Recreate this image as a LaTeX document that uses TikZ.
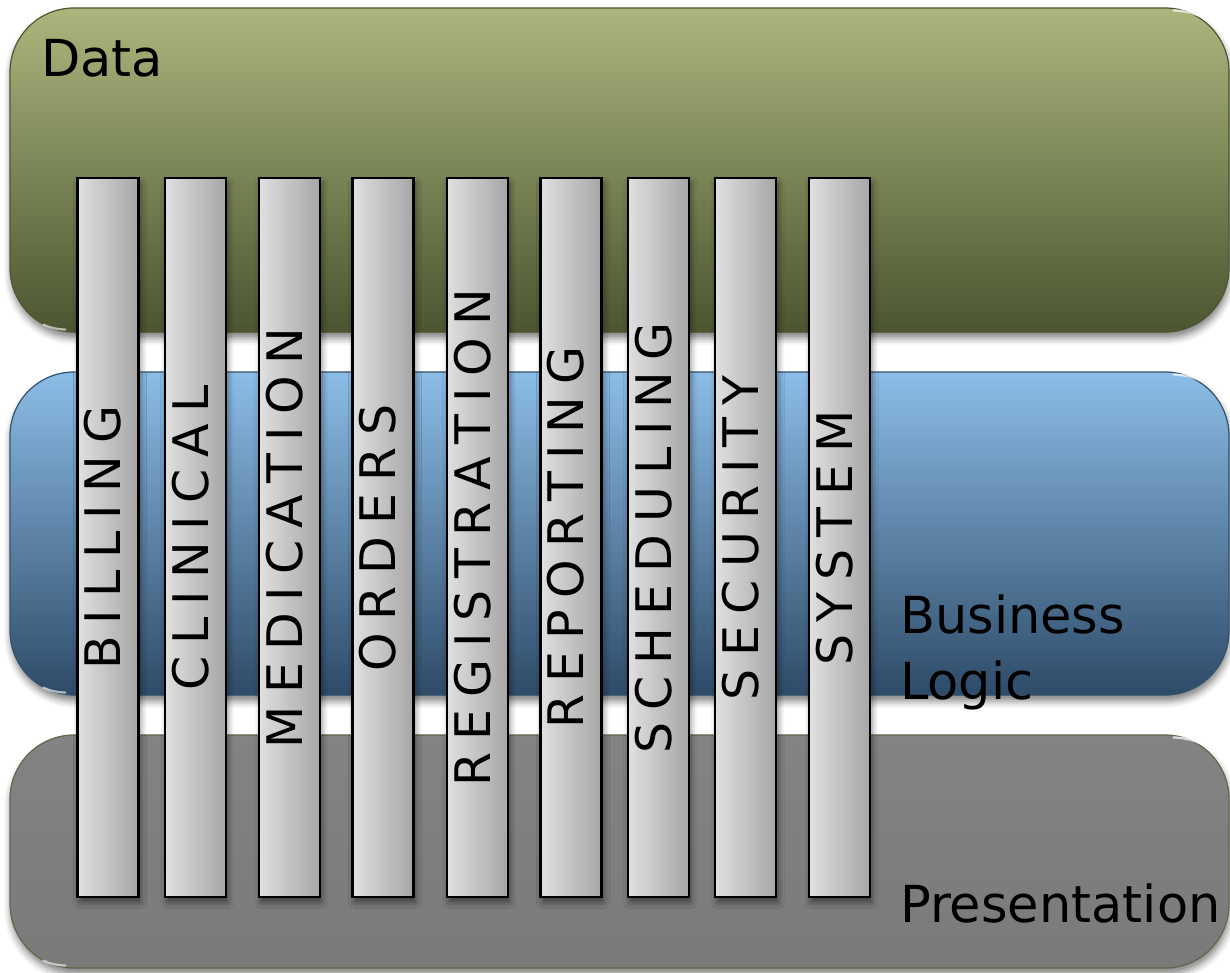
\documentclass[tikz,border=0pt]{standalone}
\usepackage{fontspec}
\setmainfont{DejaVu Sans}
\usetikzlibrary{shadows.blur}
\definecolor{dataTop}{HTML}{ABB67D}
\definecolor{dataBot}{HTML}{4B5530}
\definecolor{dataLine}{HTML}{4E5630}
\definecolor{blueTop}{HTML}{8CBDE7}
\definecolor{blueBot}{HTML}{2E4B68}
\definecolor{blueLine}{HTML}{34526E}
\definecolor{grayTop}{HTML}{838383}
\definecolor{grayBot}{HTML}{7A7A7A}
\definecolor{grayLine}{HTML}{66634A}
\definecolor{colL}{HTML}{E0E0E0}
\definecolor{colM}{HTML}{D3D3D3}
\definecolor{colR}{HTML}{A6A6A6}
\newlength\ltrsp
\setlength\ltrsp{12pt}
\def\spl#1{\splA#1\relax}
\def\splA#1#2{#1\ifx\relax#2\else\hspace{\ltrsp}\expandafter\splA\expandafter#2\fi}
\tikzset{
  layer/.style={rounded corners=64pt, line width=1.2pt, inner sep=0pt,
    minimum width=1219pt,
    blur shadow={shadow xshift=1pt, shadow yshift=-6pt, shadow blur radius=7pt, shadow opacity=50}},
  colbox/.style={draw=black, line width=2.2pt, inner sep=0pt,
    left color=colL, middle color=colM, right color=colR,
    minimum width=61pt, minimum height=719pt,
    blur shadow={shadow xshift=2pt, shadow yshift=-5pt, shadow blur radius=6pt, shadow opacity=50}},
  coltext/.style={rotate=90, inner sep=0pt, font=\fontsize{49}{59}\selectfont},
  lbl/.style={inner sep=0pt, anchor=base west, font=\fontsize{51}{60}\selectfont},
  gloss/.style={white, line width=2.2pt, opacity=.75, line cap=round}
}
\begin{document}
\begin{tikzpicture}[x=1pt,y=-1pt]
\useasboundingbox (0,0) rectangle (1230,973);
% layers
\node[layer, draw=dataLine, top color=dataTop, bottom color=dataBot, minimum height=324pt] (data) at (619.5,170) {};
\node[layer, draw=blueLine, top color=blueTop, bottom color=blueBot, minimum height=323pt] (logic) at (619.5,533.5) {};
\node[layer, draw=grayLine, top color=grayTop, bottom color=grayBot, minimum height=233pt] (pres) at (619.5,851.5) {};
% glossy corner highlights
\foreach \b in {data,logic,pres}{
  \draw[gloss] ([xshift=-56pt,yshift=-3pt]\b.north east) .. controls ([xshift=-44pt,yshift=-3.5pt]\b.north east) and ([xshift=-36pt,yshift=-6pt]\b.north east) .. ([xshift=-29pt,yshift=-9pt]\b.north east);
  \draw[gloss, opacity=.6] ([xshift=34pt,yshift=8pt]\b.south west) .. controls ([xshift=40pt,yshift=5pt]\b.south west) and ([xshift=47pt,yshift=3.5pt]\b.south west) .. ([xshift=56pt,yshift=3pt]\b.south west);
}
% layer labels
\node[lbl] (ldata) at (41,77) {Data};
\node[lbl] (lbus) at (900,633) {Business};
\node[lbl] (llog) at (900,699) {Logic};
\node[lbl] (lpres) at (900,922) {Presentation};
% columns
\foreach \n/\cx/\txt in {1/108/BILLING, 2/195.3/CLINICAL, 3/289.3/MEDICATION, 4/383/ORDERS, 5/477.3/REGISTRATION, 6/571/REPORTING, 7/658.3/SCHEDULING, 8/745.7/SECURITY, 9/839.5/SYSTEM}{
  \node[colbox] (c\n) at (\cx,537.8) {};
  \node[coltext] (t\n) at ([xshift=-5pt]c\n.center) {\expandafter\spl\expandafter{\txt}};
}
\end{tikzpicture}
\end{document}
